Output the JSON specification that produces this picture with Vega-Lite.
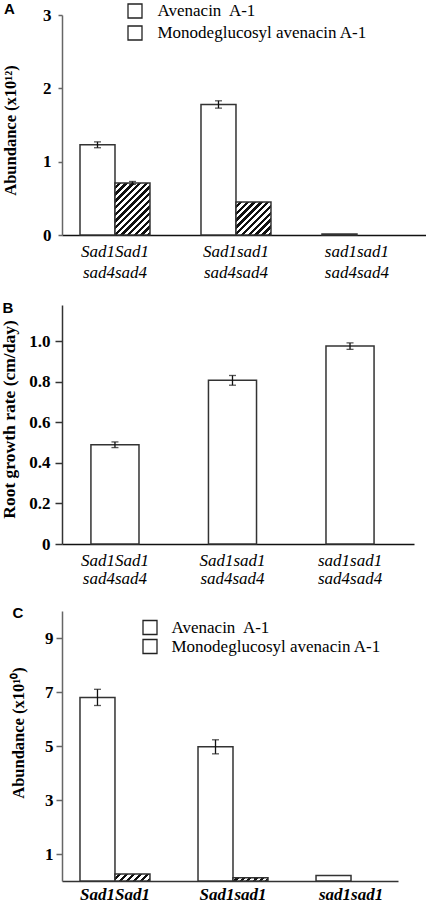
{
"$schema":"https://vega.github.io/schema/vega-lite/v6.json",
"background":"white",
"padding":{"left":0,"top":1,"right":0,"bottom":0},
"spacing":20,
"resolve":{"scale":{"x":"independent","y":"independent","xOffset":"independent","fill":"independent"},"legend":{"fill":"independent"},"axis":{"x":"independent","y":"independent"}},
"config":{"view":{"stroke":null},"font":"Liberation Serif","axis":{"grid":false},"axisY":{"labelOverlap":false,"labelSeparation":-100}},
"datasets":{
"a":[
{"genotype":"Sad1Sad1 sad4sad4","compound":"Avenacin A-1","value":1.23,"lo":1.19,"hi":1.27},
{"genotype":"Sad1Sad1 sad4sad4","compound":"Monodeglucosyl avenacin A-1","value":0.71,"lo":0.69,"hi":0.73},
{"genotype":"Sad1sad1 sad4sad4","compound":"Avenacin A-1","value":1.78,"lo":1.73,"hi":1.83},
{"genotype":"Sad1sad1 sad4sad4","compound":"Monodeglucosyl avenacin A-1","value":0.45,"lo":null,"hi":null},
{"genotype":"sad1sad1 sad4sad4","compound":"Avenacin A-1","value":0.015,"lo":null,"hi":null}
],
"b":[
{"genotype":"Sad1Sad1 sad4sad4","value":0.49,"lo":0.476,"hi":0.504},
{"genotype":"Sad1sad1 sad4sad4","value":0.808,"lo":0.784,"hi":0.832},
{"genotype":"sad1sad1 sad4sad4","value":0.977,"lo":0.961,"hi":0.993}
],
"c":[
{"genotype":"Sad1Sad1","compound":"Avenacin A-1","value":6.8,"lo":6.5,"hi":7.1},
{"genotype":"Sad1Sad1","compound":"Monodeglucosyl avenacin A-1","value":0.26,"lo":null,"hi":null},
{"genotype":"Sad1sad1","compound":"Avenacin A-1","value":4.97,"lo":4.71,"hi":5.23},
{"genotype":"Sad1sad1","compound":"Monodeglucosyl avenacin A-1","value":0.12,"lo":null,"hi":null},
{"genotype":"sad1sad1","compound":"Avenacin A-1","value":0.2,"lo":null,"hi":null}
]
},
"vconcat":[
{
"width":364,"height":220,
"title":{"text":"A","anchor":"start","frame":"bounds","font":"Liberation Sans","fontSize":15,"fontWeight":"bold","color":"black","baseline":"top","offset":0,"dy":14,"dx":2},
"data":{"name":"a"},
"encoding":{
"x":{"field":"genotype","type":"nominal","sort":null,"scale":{"paddingInner":0.4215,"paddingOuter":0.215,"align":0.346},
"axis":{"title":null,"labelAngle":0,"labelExpr":"split(datum.label, ' ')","labelFont":"Liberation Serif","labelFontStyle":"italic","labelFontWeight":"normal","labelFontSize":17,"labelLineHeight":21,"labelPadding":8,"labelColor":"black","ticks":false,"domainColor":"#111","domainWidth":1.5}},
"xOffset":{"field":"compound","type":"nominal","sort":null,"scale":{"paddingInner":0,"paddingOuter":0}}
},
"layer":[
{"mark":{"type":"bar","stroke":"#333","strokeWidth":1.5},
"encoding":{
"y":{"field":"value","type":"quantitative","title":"Abundance (x10¹²)","scale":{"domain":[0,3]},
"axis":{"values":[0,1,2,3],"format":"d","titleFont":"Liberation Serif","titleFontSize":16.5,"titleFontWeight":"bold","titleColor":"black","titlePadding":24.5,"titleY":115,"labelFont":"Liberation Serif","labelFontSize":17,"labelFontWeight":"bold","labelColor":"black","labelPadding":7,"tickSize":4,"tickColor":"#666","tickWidth":1.5,"domainColor":"#666","domainWidth":1.5}},
"fill":{"field":"compound","type":"nominal","sort":null,"scale":{"range":["#ffffff","#ffffff"]},
"legend":{"orient":"none","legendX":64.5,"legendY":-12.5,"title":null,"symbolType":"square","symbolSize":196,"symbolStrokeColor":"#222","symbolStrokeWidth":1.3,"symbolOpacity":1,"labelFont":"Liberation Serif","labelFontSize":17,"labelColor":"black","labelOffset":14,"rowPadding":1,"labelLimit":400,
"labelExpr":"datum.label === 'Avenacin A-1' ? 'Avenacin\u00a0 A-1' : datum.label",
"encode":{"symbols":{"update":{"stroke":{"value":"#222"},"strokeWidth":{"value":1.3},"opacity":{"value":1}}}}},
"condition":[
{"test":"datum.compound === 'Monodeglucosyl avenacin A-1' && datum.genotype === 'Sad1Sad1 sad4sad4'","value":{"gradient":"linear","x1":0,"y1":0,"x2":0.775,"y2":1.151,"stops":[{"offset":0,"color":"#fff"},{"offset":0.0385,"color":"#fff"},{"offset":0.0385,"color":"#111"},{"offset":0.0769,"color":"#111"},{"offset":0.0769,"color":"#fff"},{"offset":0.1154,"color":"#fff"},{"offset":0.1154,"color":"#111"},{"offset":0.1538,"color":"#111"},{"offset":0.1538,"color":"#fff"},{"offset":0.1923,"color":"#fff"},{"offset":0.1923,"color":"#111"},{"offset":0.2308,"color":"#111"},{"offset":0.2308,"color":"#fff"},{"offset":0.2692,"color":"#fff"},{"offset":0.2692,"color":"#111"},{"offset":0.3077,"color":"#111"},{"offset":0.3077,"color":"#fff"},{"offset":0.3462,"color":"#fff"},{"offset":0.3462,"color":"#111"},{"offset":0.3846,"color":"#111"},{"offset":0.3846,"color":"#fff"},{"offset":0.4231,"color":"#fff"},{"offset":0.4231,"color":"#111"},{"offset":0.4615,"color":"#111"},{"offset":0.4615,"color":"#fff"},{"offset":0.5,"color":"#fff"},{"offset":0.5,"color":"#111"},{"offset":0.5385,"color":"#111"},{"offset":0.5385,"color":"#fff"},{"offset":0.5769,"color":"#fff"},{"offset":0.5769,"color":"#111"},{"offset":0.6154,"color":"#111"},{"offset":0.6154,"color":"#fff"},{"offset":0.6538,"color":"#fff"},{"offset":0.6538,"color":"#111"},{"offset":0.6923,"color":"#111"},{"offset":0.6923,"color":"#fff"},{"offset":0.7308,"color":"#fff"},{"offset":0.7308,"color":"#111"},{"offset":0.7692,"color":"#111"},{"offset":0.7692,"color":"#fff"},{"offset":0.8077,"color":"#fff"},{"offset":0.8077,"color":"#111"},{"offset":0.8462,"color":"#111"},{"offset":0.8462,"color":"#fff"},{"offset":0.8846,"color":"#fff"},{"offset":0.8846,"color":"#111"},{"offset":0.9231,"color":"#111"},{"offset":0.9231,"color":"#fff"},{"offset":0.9615,"color":"#fff"},{"offset":0.9615,"color":"#111"},{"offset":1,"color":"#111"}]}},
{"test":"datum.compound === 'Monodeglucosyl avenacin A-1' && datum.genotype === 'Sad1sad1 sad4sad4'","value":{"gradient":"linear","x1":0,"y1":0,"x2":1.028,"y2":0.97,"stops":[{"offset":0,"color":"#fff"},{"offset":0.05,"color":"#fff"},{"offset":0.05,"color":"#111"},{"offset":0.1,"color":"#111"},{"offset":0.1,"color":"#fff"},{"offset":0.15,"color":"#fff"},{"offset":0.15,"color":"#111"},{"offset":0.2,"color":"#111"},{"offset":0.2,"color":"#fff"},{"offset":0.25,"color":"#fff"},{"offset":0.25,"color":"#111"},{"offset":0.3,"color":"#111"},{"offset":0.3,"color":"#fff"},{"offset":0.35,"color":"#fff"},{"offset":0.35,"color":"#111"},{"offset":0.4,"color":"#111"},{"offset":0.4,"color":"#fff"},{"offset":0.45,"color":"#fff"},{"offset":0.45,"color":"#111"},{"offset":0.5,"color":"#111"},{"offset":0.5,"color":"#fff"},{"offset":0.55,"color":"#fff"},{"offset":0.55,"color":"#111"},{"offset":0.6,"color":"#111"},{"offset":0.6,"color":"#fff"},{"offset":0.65,"color":"#fff"},{"offset":0.65,"color":"#111"},{"offset":0.7,"color":"#111"},{"offset":0.7,"color":"#fff"},{"offset":0.75,"color":"#fff"},{"offset":0.75,"color":"#111"},{"offset":0.8,"color":"#111"},{"offset":0.8,"color":"#fff"},{"offset":0.85,"color":"#fff"},{"offset":0.85,"color":"#111"},{"offset":0.9,"color":"#111"},{"offset":0.9,"color":"#fff"},{"offset":0.95,"color":"#fff"},{"offset":0.95,"color":"#111"},{"offset":1,"color":"#111"}]}}
]}
}},
{"mark":{"type":"rule","stroke":"#111","strokeWidth":1.3},
"encoding":{"y":{"field":"lo","type":"quantitative","title":"Abundance (x10¹²)","scale":{"domain":[0,3]}},"y2":{"field":"hi"}}},
{"mark":{"type":"tick","color":"#111","thickness":1.3,"size":7},
"encoding":{"y":{"field":"lo","type":"quantitative","title":"Abundance (x10¹²)","scale":{"domain":[0,3]}}}},
{"mark":{"type":"tick","color":"#111","thickness":1.3,"size":7},
"encoding":{"y":{"field":"hi","type":"quantitative","title":"Abundance (x10¹²)","scale":{"domain":[0,3]}}}}
]
},
{
"width":352,"height":239,
"title":{"text":"B","anchor":"start","frame":"bounds","font":"Liberation Sans","fontSize":15,"fontWeight":"bold","color":"black","baseline":"top","offset":0,"dy":10.5,"dx":2},
"data":{"name":"b"},
"encoding":{
"x":{"field":"genotype","type":"nominal","sort":null,"scale":{"paddingInner":0.591,"paddingOuter":0.293,"align":0.42},
"axis":{"title":null,"labelAngle":0,"labelExpr":"split(datum.label, ' ')","labelFont":"Liberation Serif","labelFontStyle":"italic","labelFontWeight":"normal","labelFontSize":17,"labelLineHeight":18,"labelPadding":8,"labelColor":"black","ticks":false,"domainColor":"#111","domainWidth":1.5}}
},
"layer":[
{"mark":{"type":"bar","stroke":"#333","strokeWidth":1.5,"fill":"#ffffff"},
"encoding":{
"y":{"field":"value","type":"quantitative","title":"Root growth rate (cm/day)","scale":{"domain":[0,1.18]},
"axis":{"values":[0,0.2,0.4,0.6,0.8,1.0],"labelExpr":"datum.value === 0 ? '0' : format(datum.value, '.1f')","titleFont":"Liberation Serif","titleFontSize":17.5,"titleFontWeight":"bold","titleColor":"black","titlePadding":10.25,"titleY":114,"labelFont":"Liberation Serif","labelFontSize":17,"labelFontWeight":"bold","labelColor":"black","labelPadding":5,"tickSize":7,"tickColor":"#333","tickWidth":1.5,"domainColor":"#333","domainWidth":1.5}}
}},
{"mark":{"type":"rule","stroke":"#111","strokeWidth":1.3},
"encoding":{"y":{"field":"lo","type":"quantitative","title":"Root growth rate (cm/day)","scale":{"domain":[0,1.18]}},"y2":{"field":"hi"}}},
{"mark":{"type":"tick","color":"#111","thickness":1.3,"size":7},
"encoding":{"y":{"field":"lo","type":"quantitative","title":"Root growth rate (cm/day)","scale":{"domain":[0,1.18]}}}},
{"mark":{"type":"tick","color":"#111","thickness":1.3,"size":7},
"encoding":{"y":{"field":"hi","type":"quantitative","title":"Root growth rate (cm/day)","scale":{"domain":[0,1.18]}}}}
]
},
{
"width":336,"height":270,
"title":{"text":"C","anchor":"start","frame":"bounds","font":"Liberation Sans","fontSize":15,"fontWeight":"bold","color":"black","baseline":"top","offset":0,"dy":10,"dx":2},
"data":{"name":"c"},
"encoding":{
"x":{"field":"genotype","type":"nominal","sort":null,"scale":{"paddingInner":0.407,"paddingOuter":0.127,"align":0.6},
"axis":{"title":null,"labelAngle":0,"labelFont":"Liberation Serif","labelFontStyle":"italic","labelFontWeight":"bold","labelFontSize":17,"labelPadding":5,"labelColor":"black","ticks":false,"domainColor":"#333","domainWidth":1.5}},
"xOffset":{"field":"compound","type":"nominal","sort":null,"scale":{"paddingInner":0,"paddingOuter":0}}
},
"layer":[
{"mark":{"type":"bar","stroke":"#333","strokeWidth":1.5},
"encoding":{
"y":{"field":"value","type":"quantitative","title":"Abundance (x10¹⁰)","scale":{"domain":[0,10]},
"axis":{"values":[1,2,3,4,5,6,7,8,9,10],"format":"d","labelOverlap":false,"labelSeparation":-100,"titleFont":"Liberation Serif","titleFontSize":16.5,"titleFontWeight":"bold","titleColor":"black","titlePadding":18,"titleY":121.5,"labelFont":"Liberation Serif","labelFontSize":17,"labelFontWeight":"bold","labelColor":"black","labelPadding":3,"tickSize":6,"tickColor":"#666","tickWidth":1.5,"domainColor":"#666","domainWidth":1.5}},
"fill":{"field":"compound","type":"nominal","sort":null,"scale":{"range":["#ffffff","#ffffff"]},
"legend":{"orient":"none","legendX":79.5,"legendY":8,"title":null,"symbolType":"square","symbolSize":196,"symbolStrokeColor":"#222","symbolStrokeWidth":1.3,"symbolOpacity":1,"labelFont":"Liberation Serif","labelFontSize":17,"labelColor":"black","labelOffset":13,"rowPadding":-2,"labelLimit":400,
"labelExpr":"datum.label === 'Avenacin A-1' ? 'Avenacin\u00a0 A-1' : datum.label",
"encode":{"symbols":{"update":{"stroke":{"value":"#222"},"strokeWidth":{"value":1.3},"opacity":{"value":1}}}}},
"condition":[
{"test":"datum.compound === 'Monodeglucosyl avenacin A-1' && datum.genotype === 'Sad1Sad1'","value":{"gradient":"linear","x1":0,"y1":0,"x2":1.154,"y2":0.231,"stops":[{"offset":0,"color":"#fff"},{"offset":0.0833,"color":"#fff"},{"offset":0.0833,"color":"#111"},{"offset":0.1667,"color":"#111"},{"offset":0.1667,"color":"#fff"},{"offset":0.25,"color":"#fff"},{"offset":0.25,"color":"#111"},{"offset":0.3333,"color":"#111"},{"offset":0.3333,"color":"#fff"},{"offset":0.4167,"color":"#fff"},{"offset":0.4167,"color":"#111"},{"offset":0.5,"color":"#111"},{"offset":0.5,"color":"#fff"},{"offset":0.5833,"color":"#fff"},{"offset":0.5833,"color":"#111"},{"offset":0.6667,"color":"#111"},{"offset":0.6667,"color":"#fff"},{"offset":0.75,"color":"#fff"},{"offset":0.75,"color":"#111"},{"offset":0.8333,"color":"#111"},{"offset":0.8333,"color":"#fff"},{"offset":0.9167,"color":"#fff"},{"offset":0.9167,"color":"#111"},{"offset":1,"color":"#111"}]}},
{"test":"datum.compound === 'Monodeglucosyl avenacin A-1' && datum.genotype === 'Sad1sad1'","value":{"gradient":"linear","x1":0,"y1":0,"x2":1.08,"y2":0.099,"stops":[{"offset":0,"color":"#fff"},{"offset":0.0833,"color":"#fff"},{"offset":0.0833,"color":"#111"},{"offset":0.1667,"color":"#111"},{"offset":0.1667,"color":"#fff"},{"offset":0.25,"color":"#fff"},{"offset":0.25,"color":"#111"},{"offset":0.3333,"color":"#111"},{"offset":0.3333,"color":"#fff"},{"offset":0.4167,"color":"#fff"},{"offset":0.4167,"color":"#111"},{"offset":0.5,"color":"#111"},{"offset":0.5,"color":"#fff"},{"offset":0.5833,"color":"#fff"},{"offset":0.5833,"color":"#111"},{"offset":0.6667,"color":"#111"},{"offset":0.6667,"color":"#fff"},{"offset":0.75,"color":"#fff"},{"offset":0.75,"color":"#111"},{"offset":0.8333,"color":"#111"},{"offset":0.8333,"color":"#fff"},{"offset":0.9167,"color":"#fff"},{"offset":0.9167,"color":"#111"},{"offset":1,"color":"#111"}]}}
]}
}},
{"mark":{"type":"rule","stroke":"#111","strokeWidth":1.3},
"encoding":{"y":{"field":"lo","type":"quantitative","title":"Abundance (x10¹⁰)","scale":{"domain":[0,10]}},"y2":{"field":"hi"}}},
{"mark":{"type":"tick","color":"#111","thickness":1.3,"size":7},
"encoding":{"y":{"field":"lo","type":"quantitative","title":"Abundance (x10¹⁰)","scale":{"domain":[0,10]}}}},
{"mark":{"type":"tick","color":"#111","thickness":1.3,"size":7},
"encoding":{"y":{"field":"hi","type":"quantitative","title":"Abundance (x10¹⁰)","scale":{"domain":[0,10]}}}}
]
}
]
}
